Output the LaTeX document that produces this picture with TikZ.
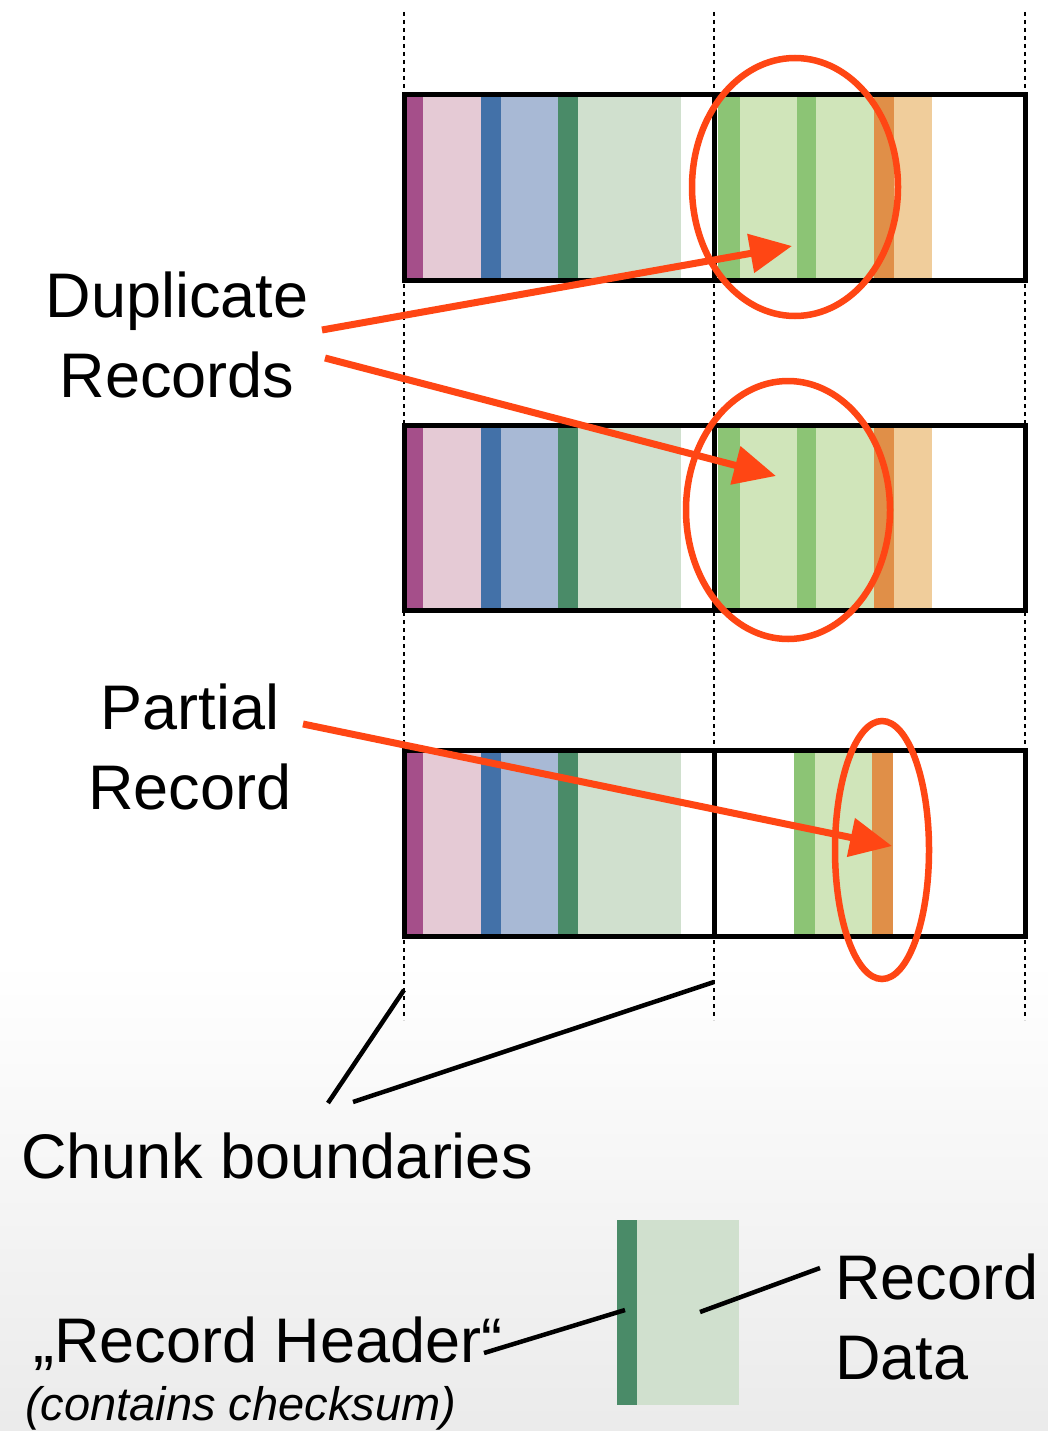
\documentclass[tikz,border=0pt]{standalone}
\usepackage{fontspec}
\setmainfont{Liberation Sans}
\usetikzlibrary{arrows.meta}

\definecolor{hdrpurple}{HTML}{A54F8A}
\definecolor{datpurple}{HTML}{E5CAD5}
\definecolor{hdrblue}{HTML}{4371A8}
\definecolor{datblue}{HTML}{A8B9D5}
\definecolor{hdrgreen}{HTML}{4A8B68}
\definecolor{datgreen}{HTML}{D0E0CE}
\definecolor{hdrlime}{HTML}{8CC475}
\definecolor{datlime}{HTML}{D0E5BA}
\definecolor{hdrorange}{HTML}{E08F48}
\definecolor{datorange}{HTML}{F0CD9B}
\definecolor{hired}{HTML}{FF4614}

\begin{document}
\begin{tikzpicture}[x=1pt,y=-1pt,
    chunkbox/.style={draw=black,line width=5pt},
    boundary/.style={draw=black,line width=2.2pt,dash pattern=on 4pt off 4pt},
    hilite/.style={draw=hired,line width=6.5pt},
    pointer/.style={draw=hired,line width=7pt,-{Triangle[length=42pt,width=38pt]}},
    lead/.style={draw=black,line width=4.5pt},
    big/.style={font=\fontsize{63}{80}\selectfont,inner sep=0pt}]

        % frame and background
        \useasboundingbox (0,0) rectangle (1048,1431);
        \fill[white] (0,0) rectangle (1048,1431);
        \shade[top color=white,bottom color=black!8] (0,960) rectangle (1048,1431);

        % chunk boundaries
        \draw[boundary] (404,12) -- (404,1020);
        \draw[boundary] (714,12) -- (714,1020);
        \draw[boundary] (1025,12) -- (1025,1020);

        % first chunk, same in every row
        \foreach \top/\bot in {95/280, 425/610, 750/936} {
          \fill[hdrpurple] (405,\top) rectangle (423,\bot);
          \fill[datpurple] (423,\top) rectangle (481,\bot);
          \fill[hdrblue]   (481,\top) rectangle (501,\bot);
          \fill[datblue]   (501,\top) rectangle (558,\bot);
          \fill[hdrgreen]  (558,\top) rectangle (578,\bot);
          \fill[datgreen]  (578,\top) rectangle (681,\bot);
        }

        % second chunk, rows 1 and 2
        \foreach \top/\bot in {95/280, 425/610} {
          \fill[hdrlime]   (718,\top) rectangle (740,\bot);
          \fill[datlime]   (740,\top) rectangle (797,\bot);
          \fill[hdrlime]   (797,\top) rectangle (816,\bot);
          \fill[datlime]   (816,\top) rectangle (874,\bot);
          \fill[hdrorange] (874,\top) rectangle (894,\bot);
          \fill[datorange] (894,\top) rectangle (932,\bot);
        }

        % second chunk, row 3
        \fill[hdrlime]   (794,750) rectangle (815,936);
        \fill[datlime]   (815,750) rectangle (872,936);
        \fill[hdrorange] (872,750) rectangle (893,936);

        % chunk frames
        \draw[chunkbox] (404,95)  rectangle (1025,280);
        \draw[chunkbox] (714,95)  -- (714,280);
        \draw[chunkbox] (404,425) rectangle (1025,610);
        \draw[chunkbox] (714,425) -- (714,610);
        \draw[chunkbox] (404,750) rectangle (1025,936);
        \draw[chunkbox] (714,750) -- (714,936);

        % highlights
        \draw[hilite] (795,187) ellipse [x radius=103pt, y radius=129pt];
        \draw[hilite] (788,510) ellipse [x radius=102pt, y radius=129pt];
        \draw[hilite] (882,850) ellipse [x radius=47pt, y radius=129pt];

        % labels
        \node[big,align=center] (dup)  at (177,335) {Duplicate\\Records};
        \node[big,align=center] (part) at (190,747) {Partial\\Record};
        \node[big,anchor=base]  (chunk) at (277,1178) {Chunk boundaries};
        \node[big,anchor=base]  (hdr)  at (268,1362) {„Record Header“};
        \node[anchor=base west,inner sep=0pt,font=\fontsize{47}{56}\selectfont\itshape]
              (note) at (25,1420) {(contains checksum)};
        \node[big,align=left,anchor=west] (data) at (835,1317) {Record\\Data};

        % pointers
        \coordinate (d1) at (322,330);
        \coordinate (d2) at (325,358);
        \coordinate (p1) at (303,724);
        \coordinate (t1) at (792,246);
        \coordinate (t2) at (776,476);
        \coordinate (t3) at (892,846);
        \draw[pointer] (d1) -- (t1);
        \draw[pointer] (d2) -- (t2);
        \draw[pointer] (p1) -- (t3);

        % chunk boundary leads
        \coordinate (c1) at (328,1103);
        \coordinate (c2) at (353,1102);
        \coordinate (b1) at (404,990);
        \coordinate (b2) at (714,982);
        \draw[lead] (c1) -- (b1);
        \draw[lead] (c2) -- (b2);

        % legend record
        \fill[hdrgreen] (617,1220) rectangle (637,1405);
        \fill[datgreen] (637,1220) rectangle (739,1405);
        \coordinate (h1) at (484,1353);
        \coordinate (h2) at (625,1310);
        \coordinate (r1) at (700,1312);
        \coordinate (r2) at (820,1268);
        \draw[lead] (h1) -- (h2);
        \draw[lead] (r1) -- (r2);
      \end{tikzpicture}
\end{document}
